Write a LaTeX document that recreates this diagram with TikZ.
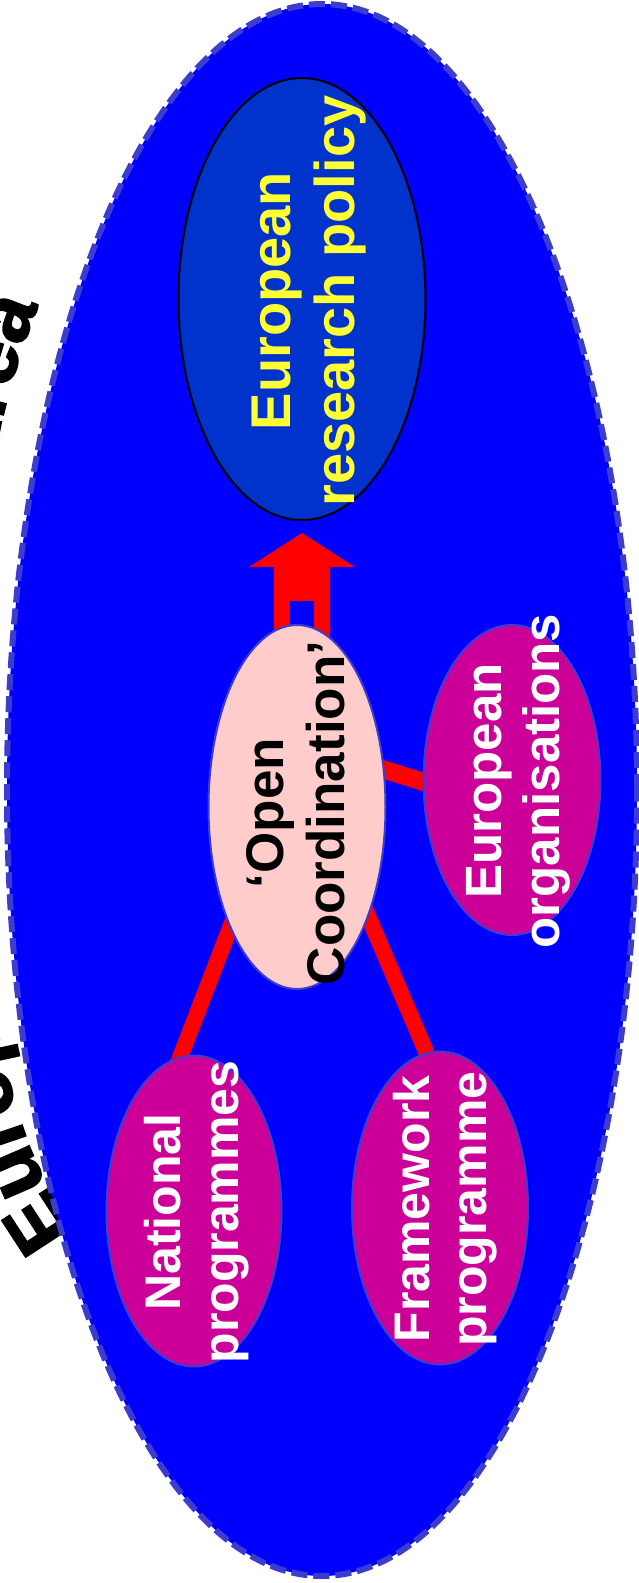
\documentclass[tikz,border=0pt]{standalone}
\usepackage{fontspec}
\setmainfont{Liberation Sans}
\newfontfamily\titlefont{Liberation Sans Bold}[FakeBold=2.5]
\usetikzlibrary{shapes.geometric,decorations.text,calc}
\definecolor{eraBlue}{HTML}{0000FF}
\definecolor{eraEdge}{HTML}{3C3CCF}
\definecolor{erpFill}{HTML}{0033CC}
\definecolor{ocFill}{HTML}{FFCCCC}
\definecolor{magFill}{HTML}{CC0099}
\definecolor{linkRed}{HTML}{FF0000}
\definecolor{erpText}{HTML}{FFFF33}
\pgfdeclarelayer{back}\pgfdeclarelayer{mid}\pgfsetlayers{back,mid,main}
\begin{document}
\begin{tikzpicture}[x=1pt,y=-1pt,
  blob/.style={ellipse, inner sep=0pt, line width=2pt},
  lbl/.style={rotate=90, align=center, inner sep=0pt},
  link/.style={draw=linkRed, line width=16pt, shorten <=-14pt, shorten >=-14pt}]
\useasboundingbox (0,0) rectangle (639,1583);
\begin{pgfonlayer}{back}
  \path[decorate, decoration={text along path,
      text={|\titlefont\fontsize{80}{80}\selectfont|European Research Area}}]
    plot[domain=71.5:-89, samples=120, smooth, variable=\t]
      ({126-156.5*cos(\t)}, {737+520*sin(\t)});
  \node[blob, fill=eraBlue, draw=eraEdge, line width=6pt,
        dash pattern=on 16pt off 6pt,
        minimum width=630pt, minimum height=1572pt] (era) at (322,790) {};
\end{pgfonlayer}
% nodes
\node[blob, fill=erpFill, draw=black, minimum width=247pt, minimum height=442pt] (erp) at (302,299) {};
\node[blob, fill=ocFill, draw=eraEdge, minimum width=177pt, minimum height=364pt] (oc) at (297,807) {};
\node[blob, fill=magFill, draw=eraEdge, minimum width=177pt, minimum height=310pt] (eo) at (512,780) {};
\node[blob, fill=magFill, draw=eraEdge, minimum width=175pt, minimum height=311pt] (nat) at (194,1211) {};
\node[blob, fill=magFill, draw=eraEdge, minimum width=176pt, minimum height=313pt] (fw) at (440,1208) {};
% labels
\node[lbl, text=erpText, font=\fontsize{56}{64}\selectfont\bfseries] (erpt) at (309,301) {European\\research policy};
\node[lbl, text=black, font=\fontsize{53}{61}\selectfont\bfseries] (oct) at (296,813) {‘Open\\Coordination’};
\node[lbl, text=white, font=\fontsize{51}{58}\selectfont\bfseries] (eot) at (518,781) {European\\organisations};
\node[lbl, text=white, font=\fontsize{50}{58}\selectfont\bfseries] (natt) at (197,1212) {National\\programmes};
\node[lbl, text=white, font=\fontsize{50}{57}\selectfont\bfseries] (fwt) at (445,1209) {Framework\\programme};
% connectors
\begin{pgfonlayer}{mid}
  \draw[link] (oc.241) -- (nat.95);
  \draw[link] (oc.303) -- (fw.95);
  \draw[link, line width=18pt] (oc.23) -- (eo.181);
  \coordinate (tip) at ($(erp.south)+(0,12)$);
  \fill[linkRed] (tip) -- ++(53,34) -- ++(-25,0) -- ++(0,70) -- ++(-56,0) -- ++(0,-70) -- ++(-25,0) -- cycle;
  \fill[eraBlue] ($(tip)+(-12,68)$) rectangle ($(tip)+(12,98)$);
\end{pgfonlayer}
\end{tikzpicture}
\end{document}
